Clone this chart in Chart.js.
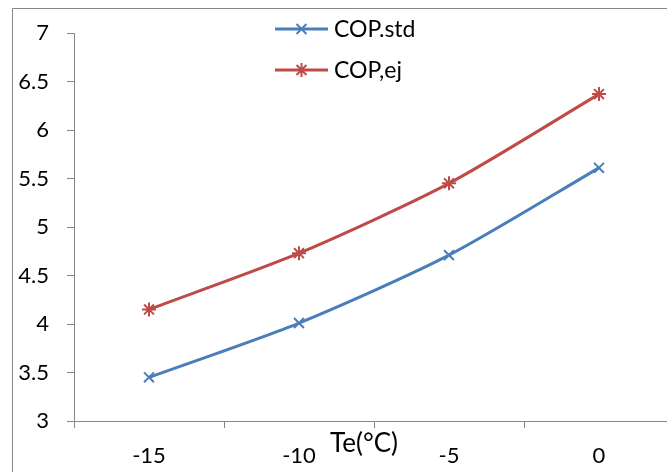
<!DOCTYPE html>
<html>
<head>
<meta charset="utf-8">
<script src="https://cdn.jsdelivr.net/npm/chart.js@4/dist/chart.umd.min.js"></script>
<style>
  html, body { margin: 0; padding: 0; background: #fff; overflow: hidden; }
  #wrap { width: 667px; height: 472px; overflow: hidden; position: relative; }
  canvas { display: block; }
</style>
</head>
<body>
<div id="wrap"><canvas id="copChart" width="700" height="472"></canvas></div>
<script>
// --- Data ---
const categories = ['-15', '-10', '-5', '0'];
const copStd = [3.45, 4.01, 4.71, 5.61];
const copEj = [4.15, 4.73, 5.45, 6.37];
const yTickValues = [3, 3.5, 4, 4.5, 5, 5.5, 6, 6.5, 7];
const xTitle = 'Te(°C)';

const FONT = 'Lato, "Open Sans", sans-serif';
const AXIS_GRAY = '#868686';
const BLUE = '#4A7EBB';
const RED = '#BE4B48';

// outer chart frame: only its left and top edges are inside the picture
const framePlugin = {
    id: 'frame',
    beforeDraw(chart) {
        const ctx = chart.ctx;
        ctx.save();
        ctx.fillStyle = '#fff';
        ctx.fillRect(0, 0, chart.width, chart.height);
        ctx.strokeStyle = AXIS_GRAY;
        ctx.lineWidth = 1;
        ctx.beginPath();
        ctx.moveTo(12.5, chart.height);
        ctx.lineTo(12.5, 8.5);
        ctx.lineTo(chart.width, 8.5);
        ctx.stroke();
        ctx.restore();
    }
};

function drawMarker(ctx, style, x, y, r) {
    ctx.beginPath();
    const d = r * Math.SQRT1_2;
    ctx.moveTo(x - d, y - d); ctx.lineTo(x + d, y + d);
    ctx.moveTo(x - d, y + d); ctx.lineTo(x + d, y - d);
    if (style === 'star') {
        ctx.moveTo(x, y - r); ctx.lineTo(x, y + r);
        ctx.moveTo(x - r, y); ctx.lineTo(x + r, y);
    }
    ctx.stroke();
}

// floating legend + axis title, placed like the Excel original
const overlayPlugin = {
    id: 'overlay',
    afterDraw(chart) {
        const ctx = chart.ctx;
        ctx.save();
        const rows = [29, 70];
        chart.data.datasets.forEach((ds, i) => {
            const y = rows[i];
            ctx.strokeStyle = ds.borderColor;
            ctx.lineWidth = 3;
            ctx.beginPath();
            ctx.moveTo(275, y);
            ctx.lineTo(328, y);
            ctx.stroke();
            ctx.lineWidth = 2;
            drawMarker(ctx, ds.pointStyle, 301.5, y, ds.pointRadius);
            ctx.fillStyle = '#000';
            ctx.font = '23px ' + FONT;
            ctx.textAlign = 'left';
            ctx.textBaseline = 'middle';
            ctx.fillText(ds.label, 334, y + 1);
        });
        ctx.font = '26px ' + FONT;
        ctx.textAlign = 'center';
        ctx.textBaseline = 'alphabetic';
        ctx.fillStyle = '#000';
        ctx.fillText(xTitle, 364, 452);
        ctx.restore();
    }
};

new Chart(document.getElementById('copChart'), {
    type: 'line',
    data: {
        labels: categories,
        datasets: [
            {
                label: 'COP.std',
                data: copStd,
                borderColor: BLUE,
                backgroundColor: BLUE,
                borderWidth: 3,
                pointStyle: 'crossRot',
                pointRadius: 7,
                pointBorderWidth: 2,
                tension: 0.25,
                fill: false
            },
            {
                label: 'COP,ej',
                data: copEj,
                borderColor: RED,
                backgroundColor: RED,
                borderWidth: 3,
                pointStyle: 'star',
                pointRadius: 7,
                pointBorderWidth: 2,
                tension: 0.25,
                fill: false
            }
        ]
    },
    options: {
        responsive: false,
        animation: false,
        devicePixelRatio: 1,
        layout: { padding: { left: 0, top: 33, right: 26, bottom: 0 } },
        plugins: { legend: { display: false }, tooltip: { enabled: false } },
        scales: {
            x: {
                type: 'category',
                offset: true,
                grid: { offset: true, drawOnChartArea: false, tickLength: 7, color: AXIS_GRAY },
                border: { color: AXIS_GRAY },
                ticks: { color: '#000', font: { family: FONT, size: 22 }, padding: 15, maxRotation: 0 },
                afterFit: (scale) => { scale.height = 472 - 421; }
            },
            y: {
                min: 3,
                max: 7,
                grid: { drawOnChartArea: false, tickLength: 7, color: AXIS_GRAY },
                border: { color: AXIS_GRAY },
                ticks: { color: '#000', font: { family: FONT, size: 22 }, padding: 18, callback: (v) => String(v) },
                afterBuildTicks: (scale) => { scale.ticks = yTickValues.map(v => ({ value: v })); },
                afterFit: (scale) => { scale.width = 74; }
            }
        }
    },
    plugins: [framePlugin, overlayPlugin]
});
</script>
</body>
</html>
